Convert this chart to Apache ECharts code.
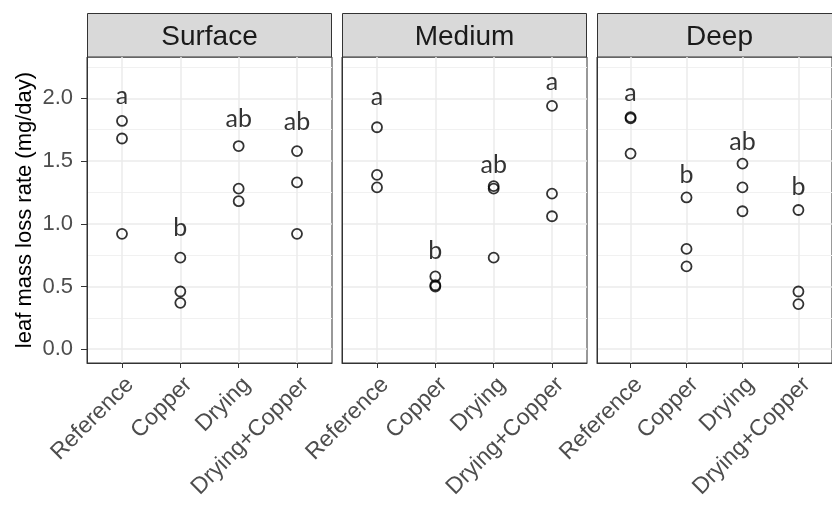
<!DOCTYPE html>
<html>
<head>
<meta charset="utf-8">
<script src="https://cdn.jsdelivr.net/npm/echarts@6.0.0/dist/echarts.min.js"></script>
<style>
html, body { margin: 0; padding: 0; background: #fff; }
#chart { width: 832px; height: 506px; }
</style>
</head>
<body>
<div id="chart"></div>
<script>
const facets = ['Surface', 'Medium', 'Deep']
const treatments = ['Reference', 'Copper', 'Drying', 'Drying+Copper']
const yTicks = [0, 0.5, 1, 1.5, 2]
const yMinorTicks = [0.25, 0.75, 1.25, 1.75, 2.25]

// leaf mass loss rate (mg/day), three replicates per treatment
const surfaceRates = [[1.82, 1.68, 0.92], [0.73, 0.46, 0.37], [1.62, 1.28, 1.18], [1.58, 1.33, 0.92]]
const mediumRates = [[1.77, 1.39, 1.29], [0.58, 0.51, 0.50], [1.30, 1.28, 0.73], [1.94, 1.24, 1.06]]
const deepRates = [[1.85, 1.84, 1.56], [1.21, 0.80, 0.66], [1.48, 1.29, 1.10], [1.11, 0.46, 0.36]]

// significance letters and the height they are printed at
const surfaceLetters = ['a', 'b', 'ab', 'ab']
const mediumLetters = ['a', 'b', 'ab', 'a']
const deepLetters = ['a', 'b', 'ab', 'b']
const surfaceLetterY = [2.02, 0.97, 1.84, 1.81]
const mediumLetterY = [2.01, 0.78, 1.47, 2.13]
const deepLetterY = [2.04, 1.39, 1.65, 1.29]

const rates = [surfaceRates, mediumRates, deepRates]
const letters = [surfaceLetters, mediumLetters, deepLetters]
const letterY = [surfaceLetterY, mediumLetterY, deepLetterY]

const panelLeft = [87, 342, 597]
const panelWidth = 245
const panelTop = 57
const panelHeight = 306
const font = 'Liberation Sans'
const xTickValues = treatments.map((t, i) => i)

const chart = echarts.init(document.getElementById('chart'))

const grid = facets.map((f, i) => ({
  left: panelLeft[i],
  top: panelTop,
  width: panelWidth,
  height: panelHeight,
  show: true,
  backgroundColor: '#fff',
  borderColor: '#333',
  borderWidth: 1
}))

const xAxis = facets.map((f, i) => ({
  type: 'value',
  gridIndex: i,
  min: -0.6,
  max: 3.6,
  axisLine: { show: true, onZero: false, lineStyle: { color: '#333', width: 1 } },
  axisTick: { show: true, length: 5, customValues: xTickValues, lineStyle: { color: '#333' } },
  axisLabel: {
    customValues: xTickValues,
    formatter: (v) => treatments[v] || '',
    rotate: 45,
    align: 'right',
    verticalAlign: 'top',
    margin: 10,
    fontSize: 23,
    fontFamily: font,
    color: '#4d4d4d'
  },
  splitLine: { show: true, lineStyle: { color: '#ebebeb', width: 1.5 } }
}))

const yAxisMain = facets.map((f, i) => ({
  type: 'value',
  gridIndex: i,
  min: -0.11,
  max: 2.33,
  name: i === 0 ? 'leaf mass loss rate (mg/day)' : '',
  nameLocation: 'middle',
  nameGap: 51,
  nameTextStyle: { fontSize: 22, fontFamily: font, color: '#000' },
  axisLine: { show: true, onZero: false, lineStyle: { color: '#333', width: 1 } },
  axisTick: { show: i === 0, length: 6, customValues: yTicks, lineStyle: { color: '#333' } },
  axisLabel: {
    show: i === 0,
    customValues: yTicks,
    formatter: (v) => v.toFixed(1),
    margin: 14,
    fontSize: 22,
    fontFamily: font,
    color: '#4d4d4d'
  },
  splitLine: { show: true, lineStyle: { color: '#ebebeb', width: 1.5 } }
}))

const yAxisMinor = facets.map((f, i) => ({
  type: 'value',
  gridIndex: i,
  min: -0.11,
  max: 2.33,
  axisLine: { show: false },
  axisTick: { show: false, customValues: yMinorTicks },
  axisLabel: { show: false, customValues: yMinorTicks },
  splitLine: { show: true, lineStyle: { color: '#f1f1f1', width: 1 } }
}))

const pointSeries = facets.map((f, i) => ({
  type: 'scatter',
  xAxisIndex: i,
  yAxisIndex: i,
  symbol: 'circle',
  symbolSize: 10,
  itemStyle: { color: 'rgba(0,0,0,0)', borderColor: '#000', borderWidth: 1.8 },
  emphasis: { disabled: true },
  data: rates[i].flatMap((vals, t) => vals.map(v => [t, v]))
}))

const letterSeries = facets.map((f, i) => ({
  type: 'scatter',
  xAxisIndex: i,
  yAxisIndex: i,
  symbolSize: 0,
  emphasis: { disabled: true },
  label: {
    show: true,
    position: 'inside',
    formatter: '{b}',
    fontFamily: 'Lato',
    fontSize: 25,
    color: '#000'
  },
  data: letters[i].map((l, t) => ({ name: l, value: [t, letterY[i][t]] }))
}))

const strips = facets.flatMap((f, i) => [
  {
    type: 'rect',
    shape: { x: panelLeft[i] + 0.5, y: 13.5, width: panelWidth - 1, height: panelTop - 13.5 },
    style: { fill: '#d9d9d9', stroke: '#333', lineWidth: 1 }
  },
  {
    type: 'text',
    x: panelLeft[i] + panelWidth / 2,
    y: 37,
    style: {
      text: f,
      font: '28px "Liberation Sans"',
      fill: '#1a1a1a',
      align: 'center',
      verticalAlign: 'middle'
    }
  }
])

const option = {
  animation: false,
  backgroundColor: '#fff',
  grid: grid,
  xAxis: xAxis,
  yAxis: yAxisMain.concat(yAxisMinor),
  series: pointSeries.concat(letterSeries),
  graphic: strips
}
chart.setOption(option)
</script>
</body>
</html>
